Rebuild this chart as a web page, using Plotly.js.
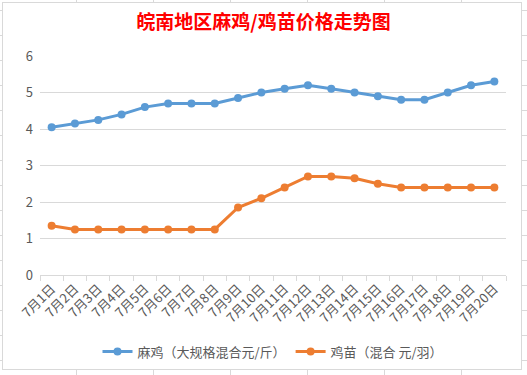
<!DOCTYPE html>
<html>
<head>
<meta charset="utf-8">
<script src="https://cdn.plot.ly/plotly-3.0.1.min.js"></script>
<style>
html,body{margin:0;padding:0;width:527px;height:375px;overflow:hidden;}
body{background-color:#fff;
background-image:
 repeating-linear-gradient(to right, transparent 0, transparent 76px, #d9d9d9 76px, #d9d9d9 77px, transparent 77px, transparent 71.5px),
 repeating-linear-gradient(to bottom, transparent 0, transparent 10px, #d9d9d9 10px, #d9d9d9 11px, transparent 11px, transparent 25px);}
#frame{position:absolute;left:2px;top:2px;width:518px;height:366px;background:#fff;border:1px solid #d9d9d9;}
#chart{position:absolute;left:0;top:0;width:527px;height:375px;}
</style>
</head>
<body>
<div id="frame"></div>
<div id="chart"></div>
<script>
const dates = ["7月1日","7月2日","7月3日","7月4日","7月5日","7月6日","7月7日","7月8日","7月9日","7月10日","7月11日","7月12日","7月13日","7月14日","7月15日","7月16日","7月17日","7月18日","7月19日","7月20日"];
const majiPrice = [4.05,4.15,4.25,4.4,4.6,4.7,4.7,4.7,4.85,5.0,5.1,5.2,5.1,5.0,4.9,4.8,4.8,5.0,5.2,5.3];
const jimiaoPrice = [1.35,1.25,1.25,1.25,1.25,1.25,1.25,1.25,1.85,2.1,2.4,2.7,2.7,2.65,2.5,2.4,2.4,2.4,2.4,2.4];
const seriesNames = ["麻鸡（大规格混合元/斤）","鸡苗（混合 元/羽）"];

const font = '"Microsoft YaHei","Noto Sans CJK SC","Noto Sans",sans-serif';
const traces = [
 {x: dates, y: majiPrice, name: seriesNames[0], type:'scatter', mode:'lines+markers',
  line:{color:'#5B9BD5', width:3}, marker:{color:'#5B9BD5', size:8}},
 {x: dates, y: jimiaoPrice, name: seriesNames[1], type:'scatter', mode:'lines+markers',
  line:{color:'#ED7D31', width:3}, marker:{color:'#ED7D31', size:8}}
];
const layout = {
 width:527, height:375,
 paper_bgcolor:'rgba(0,0,0,0)', plot_bgcolor:'rgba(0,0,0,0)',
 margin:{l:40, r:21, t:56, b:100, autoexpand:false},
 font:{family:font, color:'#595959', size:13},
 title:{text:'皖南地区麻鸡/鸡苗价格走势图', font:{family:font, color:'#FF0000', size:19, weight:'bold'}, x:0.5, xanchor:'center', y:0.94, yanchor:'middle'},
 xaxis:{type:'category', range:[-0.5, dates.length-0.5], tickangle:-45, showgrid:false, showline:true, linecolor:'#d9d9d9', linewidth:1, automargin:false,
   ticks:'outside', tickson:'boundaries', ticklen:5, tickcolor:'#d9d9d9', tickfont:{size:13, color:'#595959'}, fixedrange:true},
 yaxis:{range:[0,6], dtick:1, showgrid:true, gridcolor:'#d9d9d9', gridwidth:1, zeroline:false, showline:false, automargin:false,
   tickfont:{size:13, color:'#595959'}, ticklabelstandoff:6},
 legend:{orientation:'h', x:0.5, xanchor:'center', y:-0.35, yanchor:'middle', font:{size:13, color:'#595959'}},
 showlegend:true
};
Plotly.newPlot('chart', traces, layout, {displayModeBar:false, staticPlot:true});
</script>
</body>
</html>
